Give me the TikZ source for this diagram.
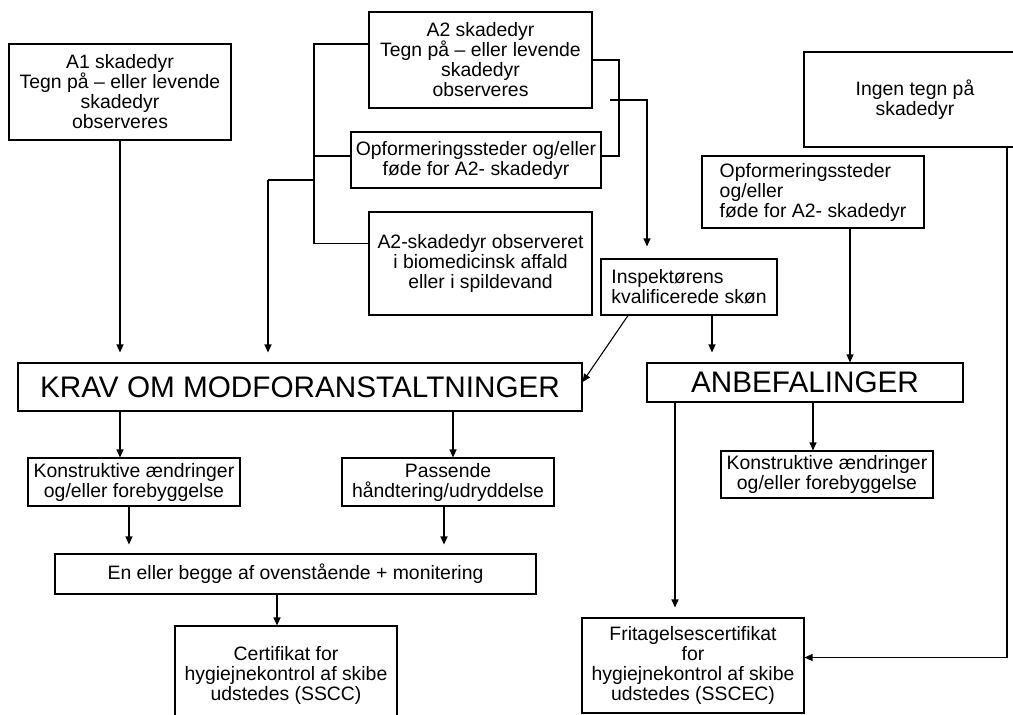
\documentclass[tikz,border=0pt]{standalone}
\usepackage{fontspec}
\setmainfont{Liberation Sans}
\usetikzlibrary{arrows.meta}
\newcommand{\smaatekst}{\fontsize{19.4}{20}\selectfont}
\newcommand{\stortekst}{\fontsize{29.7}{30}\selectfont}

\begin{document}
\begin{tikzpicture}[x=1pt,y=-1pt,line width=1.1pt,
    boks/.style={draw,inner sep=0pt,align=center,font=\smaatekst},
    pil/.style={-{Triangle[length=8pt,width=7pt]}}]
  \clip (0,0) rectangle (1013,715);
  \node[boks,minimum width=222pt,minimum height=96pt] (a1) at (120,92) {A1 skadedyr\\Tegn på – eller levende\\skadedyr\\observeres};
  \node[boks,minimum width=223pt,minimum height=96pt] (a2) at (480.5,60) {A2 skadedyr\\Tegn på – eller levende\\skadedyr\\observeres};
  \node[boks,minimum width=250pt,minimum height=56pt] (opf1) at (476,160) {Opformeringssteder og/eller\\føde for A2- skadedyr};
  \node[boks,minimum width=223pt,minimum height=103pt] (a2obs) at (480.5,263.5) {A2-skadedyr observeret\\i biomedicinsk affald\\eller i spildevand};
  \node[boks,align=left,minimum width=176pt,minimum height=56pt] (insp) at (689,287) {Inspektørens\\kvalificerede skøn};
  \node[boks,align=left,minimum width=222pt,minimum height=72pt] (opf2) at (813,192) {Opformeringssteder\\og/eller\\føde for A2- skadedyr};
  \node[boks,minimum width=222pt,minimum height=95pt] (ingen) at (915,99.5) {Ingen tegn på\\skadedyr};
  \node[boks,font=\stortekst,minimum width=564pt,minimum height=48pt] (krav) at (300,387) {KRAV OM MODFORANSTALTNINGER};
  \node[boks,font=\stortekst,minimum width=316pt,minimum height=39pt] (anbef) at (805,382.5) {ANBEFALINGER};
  \node[boks,minimum width=212pt,minimum height=48pt] (konstr1) at (134,482) {Konstruktive ændringer\\og/eller forebyggelse};
  \node[boks,minimum width=212pt,minimum height=48pt] (pass) at (448,482) {Passende\\håndtering/udryddelse};
  \node[boks,minimum width=212pt,minimum height=47pt] (konstr2) at (827,474.5) {Konstruktive ændringer\\og/eller forebyggelse};
  \node[boks,minimum width=481pt,minimum height=40pt] (enell) at (295.5,574) {En eller begge af ovenstående + monitering};
  \node[boks,minimum width=222pt,minimum height=98pt] (cert) at (286,675) {Certifikat for\\hygiejnekontrol af skibe\\udstedes (SSCC)};
  \node[boks,minimum width=222pt,minimum height=95pt] (frit) at (693,665.5) {Fritagelsescertifikat\\for\\hygiejnekontrol af skibe\\udstedes (SSCEC)};

  \coordinate (venstre) at (314,180);
  \coordinate (gren) at (268,180);
  \coordinate (o1v) at ([yshift=4pt]opf1.west);
  \draw ([yshift=16pt]a2.west) -| (venstre) |- ([yshift=20pt]a2obs.west);
  \draw (venstre |- o1v) -- (o1v);
  \draw (venstre) -- (gren);
  \draw[pil,shorten >=10pt] (gren) -- (gren |- krav.north);
  \draw[pil,shorten >=10pt] (a1.south) -- (a1.south |- krav.north);

  \coordinate (hoejre) at (619,100);
  \coordinate (hknaek) at (647,100);
  \coordinate (o1h) at ([yshift=4pt]opf1.east);
  \draw (a2.east) -| (hoejre) |- (o1h);
  \draw[pil,shorten >=12pt] ([xshift=-9pt]hoejre) -- (hknaek) -- (hknaek |- insp.north);

  \coordinate (i1) at ([xshift=-61pt]insp.south);
  \coordinate (i2) at ([xshift=23pt]insp.south);
  \draw[pil] (i1) -- ([yshift=5pt]krav.east);
  \draw[pil,shorten >=10pt] (i2) -- (i2 |- anbef.north);
  \coordinate (o2) at ([xshift=37pt]opf2.south);
  \draw[pil] (o2) -- (o2 |- anbef.north);
  \coordinate (ing) at ([xshift=92pt]ingen.south);
  \draw[pil] (ing) |- ([yshift=8pt]frit.east);

  \coordinate (k1) at ([xshift=-180pt]krav.south);
  \coordinate (k2) at ([xshift=153pt]krav.south);
  \draw[pil] (k1) -- (k1 |- konstr1.north);
  \draw[pil] (k2) -- (k2 |- pass.north);
  \coordinate (k3) at ([xshift=-5pt]konstr1.south);
  \coordinate (k4) at ([xshift=-4pt]pass.south);
  \draw[pil,shorten >=9pt] (k3) -- (k3 |- enell.north);
  \draw[pil,shorten >=9pt] (k4) -- (k4 |- enell.north);
  \coordinate (e1) at ([xshift=-18.5pt]enell.south);
  \draw[pil] (e1) -- (e1 |- cert.north);

  \coordinate (a3) at ([xshift=-130pt]anbef.south);
  \coordinate (a4) at ([xshift=8pt]anbef.south);
  \draw[pil,shorten >=10pt] (a3) -- (a3 |- frit.north);
  \draw[pil] (a4) -- (a4 |- konstr2.north);
\end{tikzpicture}
\end{document}
